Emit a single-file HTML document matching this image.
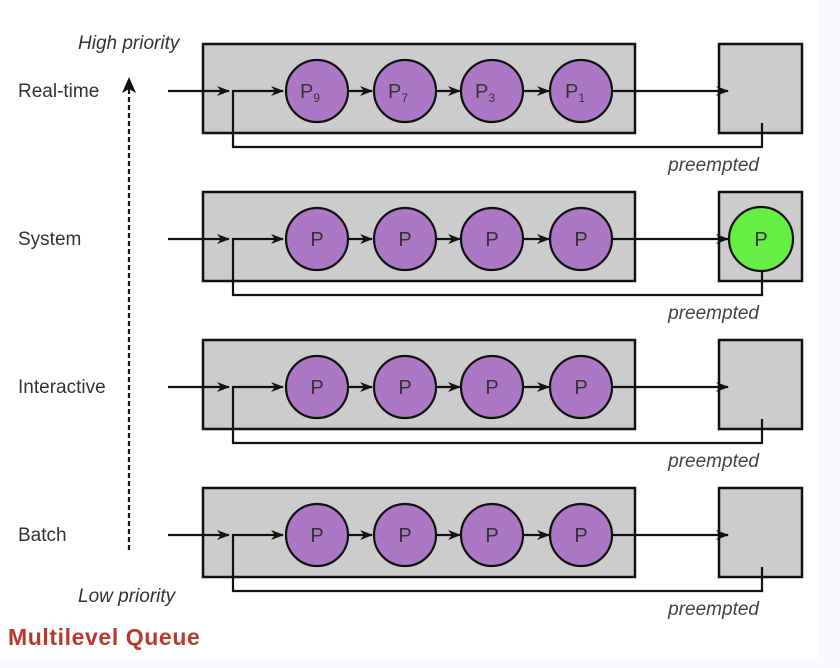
<!DOCTYPE html>
<html><head><meta charset="utf-8"><style>
body{margin:0;width:840px;height:668px;background:#fff;overflow:hidden;position:relative}
svg{position:absolute;left:0;top:0}
</style></head><body>
<svg width="840" height="668" viewBox="0 0 840 668" font-family="Liberation Sans, sans-serif">
<defs>
<marker id="a" markerWidth="13" markerHeight="12" refX="12" refY="6" orient="auto" markerUnits="userSpaceOnUse"><path d="M0,1 L13,6 L0,11 L4,6 Z" fill="#111"/></marker>
<g id="row">
<rect x="203" y="44" width="432" height="89" fill="#cccccc" stroke="#111" stroke-width="2.5"/>
<rect x="719" y="44" width="83" height="89" fill="#cccccc" stroke="#111" stroke-width="2.5"/>
<line x1="168" y1="91" x2="229" y2="91" stroke="#111" stroke-width="2.2" marker-end="url(#a)"/>
<polyline points="762,123 762,147 233,147 233,91 283,91" fill="none" stroke="#111" stroke-width="2.2" marker-end="url(#a)"/>
<line x1="348" y1="91" x2="372" y2="91" stroke="#111" stroke-width="2.2" marker-end="url(#a)"/>
<line x1="436" y1="91" x2="460" y2="91" stroke="#111" stroke-width="2.2" marker-end="url(#a)"/>
<line x1="523" y1="91" x2="549" y2="91" stroke="#111" stroke-width="2.2" marker-end="url(#a)"/>
<line x1="612" y1="91" x2="728" y2="91" stroke="#111" stroke-width="2.2" marker-end="url(#a)"/>
<g fill="#ac78c6" stroke="#111" stroke-width="2.2">
<circle cx="317" cy="91" r="31"/><circle cx="405" cy="91" r="31"/><circle cx="492" cy="91" r="31"/><circle cx="581" cy="91" r="31"/>
</g>
<text x="759" y="171" font-size="19" font-style="italic" fill="#444" text-anchor="end">preempted</text>
</g>
</defs>
<use href="#row"/>
<use href="#row" y="148"/>
<use href="#row" y="296"/>
<use href="#row" y="444"/>
<circle cx="761" cy="239" r="32" fill="#66ee44" stroke="#111" stroke-width="2.2"/>
<g font-size="20" fill="#333" text-anchor="middle">
<text x="310" y="98">P<tspan font-size="12" dy="4">9</tspan></text>
<text x="398" y="98">P<tspan font-size="12" dy="4">7</tspan></text>
<text x="485" y="98">P<tspan font-size="12" dy="4">3</tspan></text>
<text x="575" y="98">P<tspan font-size="12" dy="4">1</tspan></text>
<text x="317" y="246">P</text><text x="405" y="246">P</text><text x="492" y="246">P</text><text x="581" y="246">P</text><text x="761" y="246">P</text>
<text x="317" y="394">P</text><text x="405" y="394">P</text><text x="492" y="394">P</text><text x="581" y="394">P</text>
<text x="317" y="542">P</text><text x="405" y="542">P</text><text x="492" y="542">P</text><text x="581" y="542">P</text>
</g>
<g font-size="19" fill="#333">
<text x="18" y="97">Real-time</text>
<text x="18" y="245">System</text>
<text x="18" y="393">Interactive</text>
<text x="18" y="541">Batch</text>
</g>
<text x="78" y="49" font-size="19" font-style="italic" fill="#333">High priority</text>
<text x="78" y="602" font-size="19" font-style="italic" fill="#333">Low priority</text>
<line x1="129" y1="550" x2="129" y2="88" stroke="#111" stroke-width="2.2" stroke-dasharray="5,3"/>
<path d="M122,93 L129,77 L136,93 L129,89 Z" fill="#111"/>
<rect x="818" y="0" width="22" height="668" fill="#f8f9fc"/>
<rect x="0" y="659" width="840" height="9" fill="#f8f9fc"/>
<text x="8" y="645" font-size="23" font-weight="bold" letter-spacing="0.6" fill="#b83a2e" font-family="Liberation Sans, sans-serif">Multilevel Queue</text>
</svg>
</body></html>
